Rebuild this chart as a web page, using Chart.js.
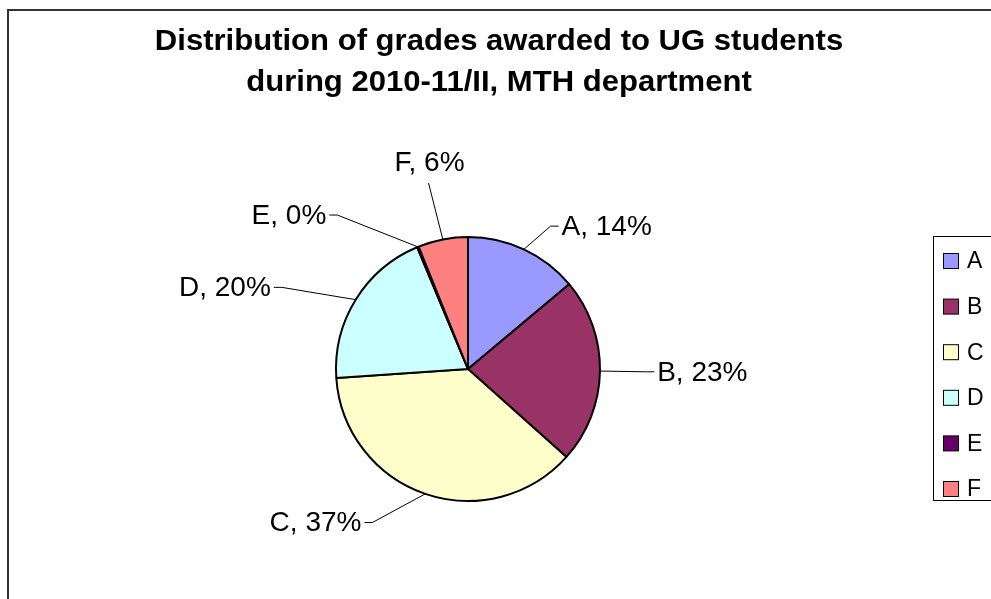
<!DOCTYPE html>
<html>
<head>
<meta charset="utf-8">
<script src="https://cdn.jsdelivr.net/npm/chart.js@4.4.1/dist/chart.umd.min.js"></script>
<style>
html, body { margin: 0; padding: 0; background: #fff; }
</style>
</head>
<body>
<canvas id="grafico-pizza" width="991" height="599"></canvas>
<script>
const grades = ['A', 'B', 'C', 'D', 'E', 'F'];
const shares = [13.9, 22.7, 37.3, 19.8, 0.2, 6.1];
const colours = ['#9999FF', '#993366', '#FFFFCC', '#CCFFFF', '#660066', '#FF8080'];
const titleLines = ['Distribution of grades awarded to UG students', 'during 2010-11/II, MTH department'];

const FONT = '"Liberation Sans", Arial, sans-serif';

// frame, title, leader-line labels and the boxed legend, Excel style
const excelBits = {
    id: 'excelBits',
    afterDraw(chart, args, opts) {
        const c = chart.ctx;
        const meta = chart.getDatasetMeta(0);
        const total = shares.reduce((a, b) => a + b, 0);
        c.save();

        c.strokeStyle = '#333';
        c.lineWidth = 2;
        c.strokeRect(8, 10, 1500, 1000);

        c.fillStyle = '#000';
        c.textAlign = 'center';
        c.textBaseline = 'middle';
        c.font = 'bold 30px ' + FONT;
        titleLines.forEach((t, i) => {
            c.save();
            c.translate(499, 42 + i * 41);
            c.scale(1.035, 1);
            c.fillText(t, 0, 0);
            c.restore();
        });

        c.font = '28px ' + FONT;
        c.lineWidth = 1;
        c.strokeStyle = '#000';
        meta.data.forEach((arc, i) => {
            const p = arc.getProps(['x', 'y', 'startAngle', 'endAngle', 'outerRadius'], true);
            const mid = (p.startAngle + p.endAngle) / 2;
            const sx = p.x + Math.cos(mid) * p.outerRadius;
            const sy = p.y + Math.sin(mid) * p.outerRadius;
            const a2 = mid + opts.turn[i] * Math.PI / 180;
            const ex = p.x + Math.cos(a2) * p.outerRadius * opts.reach[i];
            const ey = p.y + Math.sin(a2) * p.outerRadius * opts.reach[i];
            const txt = grades[i] + ', ' + Math.round(shares[i] / total * 100) + '%';
            c.beginPath();
            c.moveTo(sx, sy);
            c.lineTo(ex, ey);
            if (Math.abs(Math.cos(a2)) < 0.25 && Math.sin(a2) < 0) {
                c.stroke();
                c.textAlign = 'center';
                c.fillText(txt, ex + 1, ey - 20);
            } else if (ex > p.x) {
                c.lineTo(ex + opts.tick, ey);
                c.stroke();
                c.textAlign = 'left';
                c.fillText(txt, ex + opts.tick + 3, ey + 1);
            } else {
                c.lineTo(ex - opts.tick, ey);
                c.stroke();
                c.textAlign = 'right';
                c.fillText(txt, ex - opts.tick - 3, ey + 1);
            }
        });

        // legend
        c.strokeStyle = '#000';
        c.lineWidth = 1;
        c.strokeRect(933.5, 236.5, 200, 264);
        c.font = '23px ' + FONT;
        c.textAlign = 'left';
        grades.forEach((g, i) => {
            const y = 261 + i * 45.6;
            c.fillStyle = colours[i];
            c.fillRect(943.5, y - 7.5, 15, 15);
            c.strokeRect(943.5, y - 7.5, 15, 15);
            c.fillStyle = '#000';
            c.fillText(g, 967, y + 1);
        });
        c.restore();
    }
};

const ctx = document.getElementById('grafico-pizza');
new Chart(ctx, {
    type: 'pie',
    data: {
        labels: grades,
        datasets: [{
            data: shares,
            backgroundColor: colours,
            borderColor: '#000',
            borderWidth: 2,
            hoverOffset: 0
        }]
    },
    options: {
        responsive: false,
        animation: false,
        layout: {
            padding: { left: 335, right: 390, top: 236, bottom: 97 }
        },
        plugins: {
            legend: { display: false },
            tooltip: { enabled: false },
            excelBits: {
                turn: [5, 0, 13, -8, -18, -1],
                reach: [1.25, 1.35, 1.37, 1.54, 1.53, 1.44],
                tick: 8
            }
        }
    },
    plugins: [excelBits]
});
</script>
</body>
</html>
